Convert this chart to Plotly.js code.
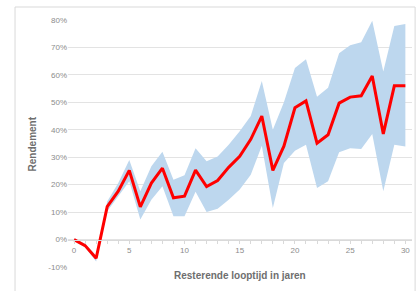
<!DOCTYPE html>
<html>
<head>
<meta charset="utf-8">
<script src="https://cdn.plot.ly/plotly-3.0.1.min.js"></script>
<style>html,body{margin:0;padding:0;background:#fff;}#chart{width:419px;height:291px;}</style>
</head>
<body>
<div id="chart"></div>
<script>
const years = [0,1,2,3,4,5,6,7,8,9,10,11,12,13,14,15,16,17,18,19,20,21,22,23,24,25,26,27,28,29,30];
const rendement = [0,-2.2,-6.8,12,17.6,25.2,11.9,20.6,26,15.2,15.8,25.3,19.3,21.5,26.3,30.3,36.5,45,25.2,34,48,50.5,35.1,38.2,49.7,51.9,52.4,59.6,38.5,56,56];
const bovengrens = [0.5,-1.5,-5.8,13.9,20.6,29,17.6,26.7,32,21.8,23.4,33.3,28.5,30.3,34.5,39.5,45,57.8,40,50,62.5,65.7,52,55.3,67.9,70.8,71.9,79.7,61.2,77.8,78.5];
const ondergrens = [-0.5,-2.8,-8,10.3,15.8,21.2,7.3,14.5,19.4,8.5,8.5,17.4,10,11.2,14.5,18.2,23.6,34.2,11.5,27.9,32.4,34.5,18.8,21.2,31.8,33.3,33,38.5,17.6,34.5,33.9];
const xTicks = [0,5,10,15,20,25,30];
const yTicks = [-10,0,10,20,30,40,50,60,70,80];

const bandColor = '#bdd7ee';
const data = [
  {x: years, y: ondergrens, type: 'scatter', mode: 'lines', line: {width: 0, color: bandColor}, hoverinfo: 'skip', showlegend: false},
  {x: years, y: bovengrens, type: 'scatter', mode: 'lines', fill: 'tonexty', fillcolor: bandColor, line: {width: 0, color: bandColor}, hoverinfo: 'skip', showlegend: false},
  {x: years, y: rendement, type: 'scatter', mode: 'lines', line: {width: 3, color: '#ff0000'}, showlegend: false}
];

const layout = {
  width: 419, height: 291,
  margin: {l: 68, r: 7, t: 20, b: 24, pad: 0},
  paper_bgcolor: '#ffffff', plot_bgcolor: '#ffffff',
  font: {family: 'Liberation Sans, Arial, sans-serif', color: '#808080', size: 8},
  showlegend: false,
  xaxis: {
    range: [-0.55, 30.6],
    tickvals: xTicks, ticktext: xTicks.map(String),
    anchor: 'free', position: 10/90,
    showgrid: false, zeroline: false,
    showline: true, linecolor: '#d9d9d9', linewidth: 1,
    ticks: 'outside', ticklen: 3, tickcolor: '#d9d9d9',
    minor: {dtick: 1, tick0: 0, ticks: 'outside', ticklen: 3, tickcolor: '#d9d9d9', showgrid: false},
    tickfont: {size: 8, color: '#8c8c8c'}
  },
  yaxis: {
    range: [-10, 80],
    tickvals: yTicks, ticktext: yTicks.map(v => (v < 0 ? '-' + Math.abs(v) : v) + '%'),
    showgrid: true, gridcolor: '#e3e3e3', gridwidth: 1,
    zeroline: false, showline: false, ticks: '',
    tickfont: {size: 8, color: '#8c8c8c'}
  },
  annotations: [
    {text: 'Resterende looptijd in jaren', xref: 'paper', yref: 'paper', x: 0.5, y: -0.036, xanchor: 'center', yanchor: 'middle', showarrow: false,
     font: {family: 'Liberation Sans, Arial, sans-serif', size: 10, color: '#6e6e6e', weight: 'bold'}},
    {text: 'Rendement', xref: 'paper', yref: 'paper', x: -0.102, y: 0.5, xanchor: 'center', yanchor: 'middle', textangle: -90, showarrow: false,
     font: {family: 'Liberation Sans, Arial, sans-serif', size: 10, color: '#6e6e6e', weight: 'bold'}}
  ],
  shapes: [
    {type: 'rect', xref: 'paper', yref: 'paper', x0: -0.154, x1: 1.009, y0: -0.3, y1: 1.0526, line: {color: '#d9d9d9', width: 1}, fillcolor: 'rgba(0,0,0,0)', layer: 'below'}
  ]
};

Plotly.newPlot('chart', data, layout, {displayModeBar: false, staticPlot: true});
</script>
</body>
</html>
